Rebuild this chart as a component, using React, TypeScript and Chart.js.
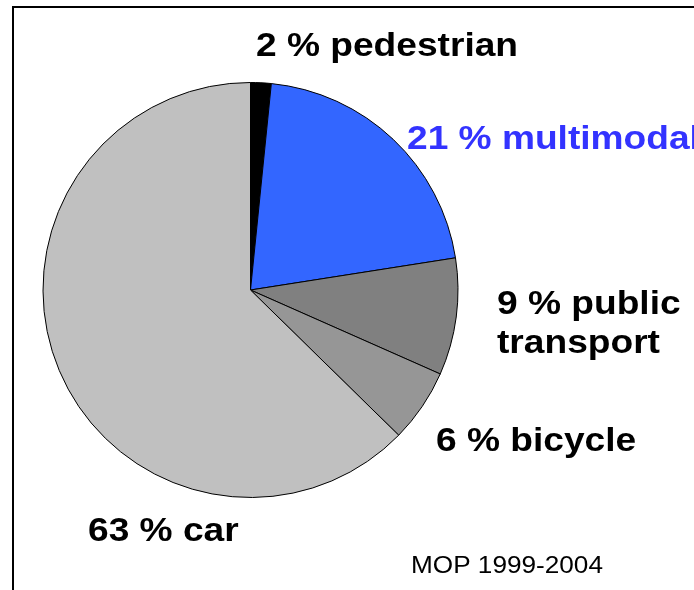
import React, { useEffect, useRef } from "react";
import { Chart, registerables } from "chart.js";

Chart.register(...registerables);

const categories = ["pedestrian", "multimodal", "public transport", "bicycle", "car"];
const shares = [1.6, 20.9, 9.1, 5.7, 62.6];
const sliceColors = ["#000000", "#3366FF", "#808080", "#969696", "#C0C0C0"];
const labelLines = [
  ["2 % pedestrian"],
  ["21 % multimodal"],
  ["9 % public", "transport"],
  ["6 % bicycle"],
  ["63 % car"],
];
const labelColors = ["#000000", "#3333FF", "#000000", "#000000", "#000000"];
const sourceNote = "MOP 1999-2004";

const labelPos: Array<[number, number]> = [
  [256, 56],
  [407, 149],
  [497, 314],
  [436, 451],
  [88, 541],
];

const overlayPlugin = {
  id: "overlay",
  afterDraw(chart: any) {
    const ctx = chart.ctx as CanvasRenderingContext2D;
    ctx.save();
    // frame
    ctx.strokeStyle = "#000";
    ctx.lineWidth = 2;
    ctx.beginPath();
    ctx.moveTo(13, 600);
    ctx.lineTo(13, 7);
    ctx.lineTo(700, 7);
    ctx.stroke();
    // labels
    ctx.textBaseline = "alphabetic";
    ctx.textAlign = "left";
    labelLines.forEach((lines, i) => {
      const [x, y] = labelPos[i];
      ctx.fillStyle = labelColors[i];
      ctx.font = "bold 33px 'Liberation Sans', Arial, sans-serif";
      lines.forEach((t, j) => {
        ctx.save();
        ctx.translate(x, y + j * 39);
        ctx.scale(1.125, 1);
        ctx.fillText(t, 0, 0);
        ctx.restore();
      });
    });
    ctx.fillStyle = "#000";
    ctx.font = "24px 'Liberation Sans', Arial, sans-serif";
    ctx.save();
    ctx.translate(411, 573);
    ctx.scale(1.09, 1);
    ctx.fillText(sourceNote, 0, 0);
    ctx.restore();
    ctx.restore();
  },
};

export default function App() {
  const ref = useRef<HTMLCanvasElement>(null);
  useEffect(() => {
    if (!ref.current) return;
    const chart = new Chart(ref.current, {
      type: "pie",
      data: {
        labels: categories,
        datasets: [
          {
            data: shares,
            backgroundColor: sliceColors,
            borderColor: "#000000",
            borderWidth: 1,
          },
        ],
      },
      options: {
        responsive: false,
        animation: false,
        layout: { padding: { left: 42, top: 82, right: 235, bottom: 92 } },
        plugins: {
          legend: { display: false },
          tooltip: { enabled: false },
        },
      },
      plugins: [overlayPlugin],
    });
    return () => chart.destroy();
  }, []);
  return (
    <div style={{ position: "fixed", left: 0, top: 0, width: 694, height: 590, background: "#fff" }}>
      <canvas ref={ref} width={694} height={590} style={{ display: "block" }} />
    </div>
  );
}
